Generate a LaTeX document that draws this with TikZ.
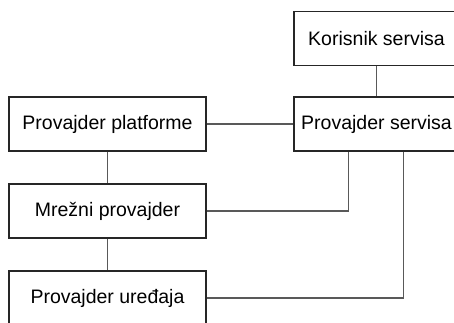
\documentclass[tikz,border=0pt]{standalone}
\usepackage{fontspec}
\setmainfont{Liberation Sans}
\begin{document}
\begin{tikzpicture}[x=1pt,y=1pt,
  box/.style={draw=black!85, line width=1.3pt, fill=white, inner sep=0pt,
    minimum height=54pt, font=\fontsize{19.5}{22}\selectfont},
  lbox/.style={box, minimum width=197pt},
  rbox/.style={box, minimum width=165pt},
  conn/.style={draw=black!65, line width=1.3pt}]
\useasboundingbox (0,0) rectangle (454,322);
\clip (0,0) rectangle (454,322);
\node[rbox] (kor) at (376.5,283.5) {Korisnik servisa};
\node[rbox] (ser) at (376.5,198) {Provajder servisa};
\node[lbox] (pla) at (107.5,198) {Provajder platforme};
\node[lbox] (mre) at (107.5,111) {Mrežni provajder};
\node[lbox] (ure) at (107.5,24) {Provajder uređaja};
\draw[conn] (kor.south) -- (ser.north);
\draw[conn] (pla.east) -- (ser.west);
\draw[conn] (pla.south) -- (mre.north);
\draw[conn] (mre.south) -- (ure.north);
\draw[conn] (mre.east) -| ([xshift=55pt]ser.south west);
\draw[conn] (ure.east) -| ([xshift=110pt]ser.south west);
\end{tikzpicture}
\end{document}
